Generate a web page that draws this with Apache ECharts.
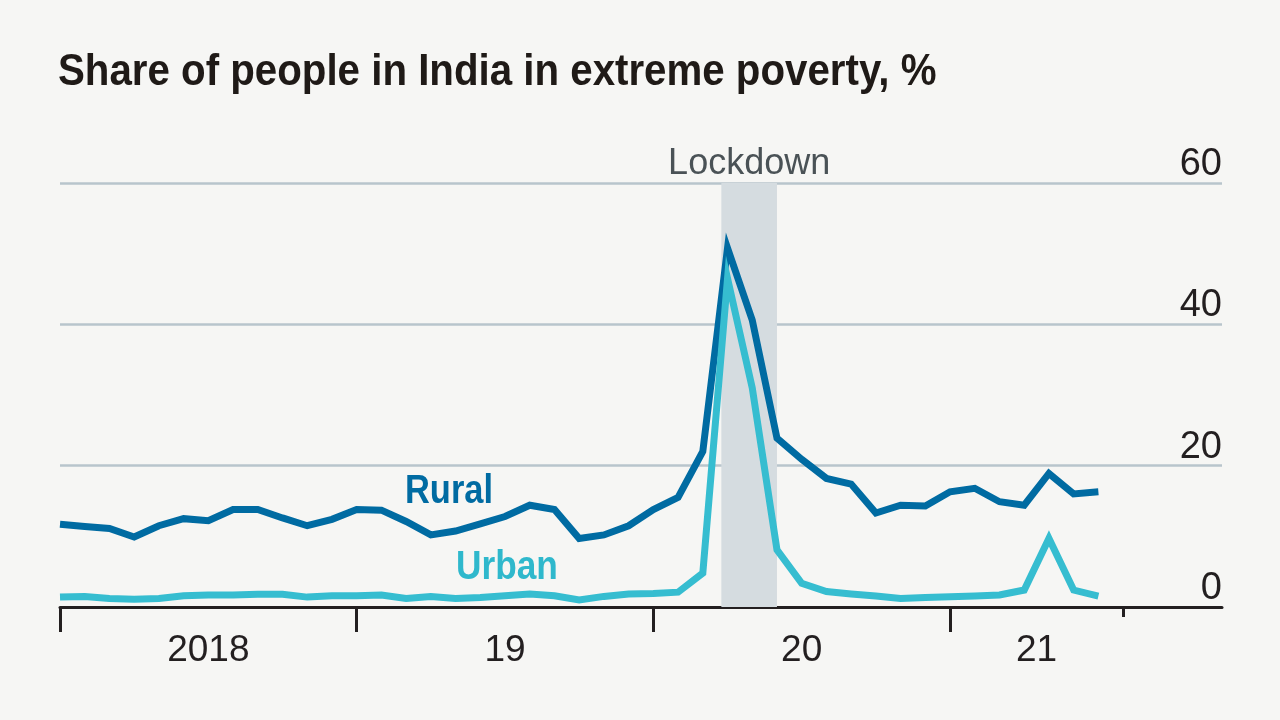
<!DOCTYPE html>
<html>
<head>
<meta charset="utf-8">
<script src="https://cdn.jsdelivr.net/npm/echarts@6/dist/echarts.min.js"></script>
<style>
html,body{margin:0;padding:0;background:#f6f6f4;}
#chart{width:1280px;height:720px;}
</style>
</head>
<body>
<div id="chart"></div>
<script>
// Monthly observations, Jan 2018 .. Jul 2021 (index 0 = Jan 2018)
const startYear = 2018;
const months = [];
for (let i = 0; i < 43; i++) {
  const y = startYear + Math.floor(i / 12);
  const m = (i % 12) + 1;
  months.push(y + '-' + (m < 10 ? '0' + m : m));
}
const rural = [11.7, 11.4, 11.1, 9.9, 11.5, 12.5, 12.2, 13.8, 13.8, 12.6, 11.5, 12.4,
               13.8, 13.7, 12.1, 10.2, 10.75, 11.75, 12.8, 14.4, 13.8, 9.7, 10.2, 11.5,
               13.8, 15.5, 22.0, 50.8, 40.6, 23.9, 20.9, 18.2, 17.4, 13.3, 14.4, 14.3,
               16.3, 16.8, 14.9, 14.4, 18.9, 16.0, 16.3];
const urban = [1.4, 1.5, 1.2, 1.1, 1.2, 1.6, 1.7, 1.7, 1.8, 1.8, 1.4, 1.6,
               1.6, 1.7, 1.2, 1.5, 1.2, 1.35, 1.6, 1.85, 1.6, 1.0, 1.5, 1.85,
               1.9, 2.1, 4.8, 46.5, 31.0, 8.1, 3.35, 2.2, 1.85, 1.55, 1.2, 1.35,
               1.45, 1.55, 1.7, 2.4, 9.7, 2.4, 1.55];
const yearTicks = [0, 12, 24, 36];          // Jan of each year
const endTick = [43];                       // short tick, Aug 2021
const yearLabelPos = [6, 18, 30, 39.5];
const yearLabels = ['2018', '19', '20', '21'];
const lockdown = [26.75, 29];               // late Mar 2020 .. end May 2020

const FONT = '"Liberation Sans", Arial, sans-serif';
const INK = '#231f20';

const toPairs = arr => arr.map((v, i) => [i, v]);

const chart = echarts.init(document.getElementById('chart'), null, {renderer: 'canvas'});
chart.setOption({
  backgroundColor: '#f6f6f4',
  animation: false,
  grid: {left: 60, right: 58, top: 183, bottom: 113, containLabel: false},
  xAxis: [{
    type: 'value', min: 0, max: 47,
    axisLine: {show: true, lineStyle: {color: INK, width: 3}},
    axisTick: {show: true, customValues: yearTicks, length: 25, lineStyle: {color: INK, width: 3}},
    axisLabel: {
      show: true, customValues: yearLabelPos,
      formatter: v => yearLabels[yearLabelPos.indexOf(v)] || '',
      fontFamily: FONT, fontSize: 37, color: INK,
      verticalAlign: 'middle', lineHeight: 37, margin: 44
    },
    splitLine: {show: false}
  }, {
    type: 'value', min: 0, max: 47, position: 'bottom',
    axisLine: {show: false},
    axisTick: {show: true, customValues: endTick, length: 10, lineStyle: {color: INK, width: 3}},
    axisLabel: {show: false},
    splitLine: {show: false}
  }],
  yAxis: {
    type: 'value', min: 0, max: 60, interval: 20, position: 'right',
    axisLine: {show: false}, axisTick: {show: false},
    splitLine: {show: true, lineStyle: {color: '#b8c5cc', width: 2.5}},
    axisLabel: {
      inside: true, margin: 0, fontFamily: FONT, fontSize: 38, color: INK,
      verticalAlign: 'bottom', lineHeight: 37
    }
  },
  series: [{
    name: 'Rural', type: 'line', xAxisIndex: 0, data: toPairs(rural),
    showSymbol: false, symbol: 'none',
    lineStyle: {color: '#006ba2', width: 7, join: 'miter', miterLimit: 10, cap: 'butt'},
    z: 3,
    markArea: {
      silent: true,
      itemStyle: {color: '#d5dce0'},
      label: {show: true, position: 'top', distance: 0, formatter: 'Lockdown',
               fontFamily: FONT, fontSize: 36, lineHeight: 38, color: '#4a5256'},
      data: [[{xAxis: lockdown[0], yAxis: 60}, {xAxis: lockdown[1], yAxis: 0}]]
    }
  }, {
    name: 'Urban', type: 'line', xAxisIndex: 0, data: toPairs(urban),
    showSymbol: false, symbol: 'none',
    lineStyle: {color: '#36bdd0', width: 7, join: 'miter', miterLimit: 10, cap: 'butt'},
    z: 4
  }],
  graphic: [{
    type: 'text', x: 58, y: 72.5, scaleX: 0.915,
    style: {x: 0, y: 0, text: 'Share of people in India in extreme poverty, %', fontFamily: FONT,
            fontSize: 44, fontWeight: 'bold', fill: '#1f1a17', verticalAlign: 'middle', align: 'left'}
  }, {
    type: 'text', x: 405, y: 492, scaleX: 0.84,
    style: {x: 0, y: 0, text: 'Rural', fontFamily: FONT, fontSize: 41, fontWeight: 'bold',
            fill: '#006ba2', verticalAlign: 'middle', align: 'left'}
  }, {
    type: 'text', x: 456, y: 567.5, scaleX: 0.86,
    style: {x: 0, y: 0, text: 'Urban', fontFamily: FONT, fontSize: 41, fontWeight: 'bold',
            fill: '#2fb8cc', verticalAlign: 'middle', align: 'left'}
  }]
});
</script>
</body>
</html>
